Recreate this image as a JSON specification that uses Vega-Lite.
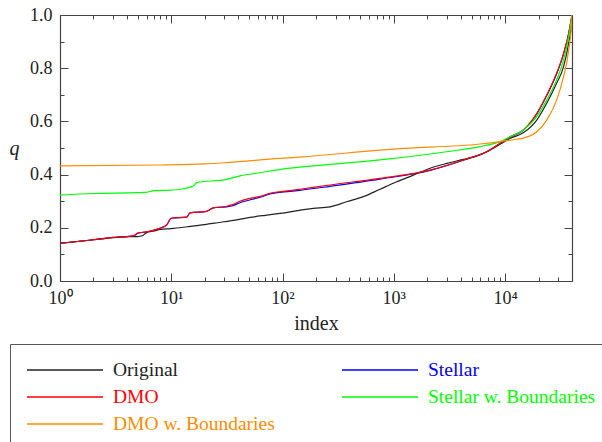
{
  "$schema": "https://vega.github.io/schema/vega-lite/v6.json",
  "width": 512,
  "height": 266,
  "autosize": {"type": "none"},
  "padding": {"left": 60, "top": 15, "right": 30, "bottom": 161},
  "background": "white",
  "config": {
    "view": {"stroke": null},
    "axis": {
      "grid": false,
      "labelFont": "Liberation Serif",
      "labelFontSize": 18,
      "labelColor": "#222222",
      "titleFont": "Liberation Serif",
      "titleFontWeight": "normal",
      "titleColor": "#222222",
      "tickColor": "#444444",
      "domainColor": "#444444",
      "tickWidth": 1,
      "domainWidth": 1.2
    },
    "legend": {
      "labelFont": "Liberation Serif",
      "labelFontSize": 19.5
    }
  },
  "data": {
    "values": [
      {"s": "Stellar", "i": 1, "q": 0.142},
      {"s": "Stellar", "i": 2, "q": 0.155},
      {"s": "Stellar", "i": 3, "q": 0.164},
      {"s": "Stellar", "i": 4, "q": 0.167},
      {"s": "Stellar", "i": 4.6, "q": 0.170},
      {"s": "Stellar", "i": 5, "q": 0.180},
      {"s": "Stellar", "i": 6, "q": 0.185},
      {"s": "Stellar", "i": 7.9, "q": 0.198},
      {"s": "Stellar", "i": 9.1, "q": 0.211},
      {"s": "Stellar", "i": 10, "q": 0.236},
      {"s": "Stellar", "i": 13.8, "q": 0.240},
      {"s": "Stellar", "i": 14.7, "q": 0.256},
      {"s": "Stellar", "i": 20.8, "q": 0.262},
      {"s": "Stellar", "i": 23.9, "q": 0.275},
      {"s": "Stellar", "i": 31.5, "q": 0.279},
      {"s": "Stellar", "i": 35, "q": 0.282},
      {"s": "Stellar", "i": 41.4, "q": 0.294},
      {"s": "Stellar", "i": 58, "q": 0.311},
      {"s": "Stellar", "i": 63, "q": 0.315},
      {"s": "Stellar", "i": 77, "q": 0.327},
      {"s": "Stellar", "i": 117, "q": 0.337},
      {"s": "Stellar", "i": 143, "q": 0.341},
      {"s": "Stellar", "i": 267, "q": 0.356},
      {"s": "Stellar", "i": 752, "q": 0.383},
      {"s": "Stellar", "i": 2120, "q": 0.416},
      {"s": "Stellar", "i": 4220, "q": 0.454},
      {"s": "Stellar", "i": 6840, "q": 0.486},
      {"s": "Stellar", "i": 11100, "q": 0.541},
      {"s": "Stellar", "i": 14600, "q": 0.567},
      {"s": "Stellar", "i": 19300, "q": 0.628},
      {"s": "Stellar", "i": 23700, "q": 0.697},
      {"s": "Stellar", "i": 29100, "q": 0.779},
      {"s": "Stellar", "i": 33600, "q": 0.854},
      {"s": "Stellar", "i": 37300, "q": 0.93},
      {"s": "Stellar", "i": 40000, "q": 1.0},

      {"s": "Original", "i": 1, "q": 0.142},
      {"s": "Original", "i": 2, "q": 0.155},
      {"s": "Original", "i": 3, "q": 0.163},
      {"s": "Original", "i": 4, "q": 0.167},
      {"s": "Original", "i": 5, "q": 0.167},
      {"s": "Original", "i": 5.5, "q": 0.170},
      {"s": "Original", "i": 6, "q": 0.182},
      {"s": "Original", "i": 7, "q": 0.188},
      {"s": "Original", "i": 8, "q": 0.194},
      {"s": "Original", "i": 10, "q": 0.197},
      {"s": "Original", "i": 14, "q": 0.204},
      {"s": "Original", "i": 20, "q": 0.212},
      {"s": "Original", "i": 26, "q": 0.219},
      {"s": "Original", "i": 40, "q": 0.231},
      {"s": "Original", "i": 51, "q": 0.239},
      {"s": "Original", "i": 70, "q": 0.247},
      {"s": "Original", "i": 95, "q": 0.254},
      {"s": "Original", "i": 189, "q": 0.273},
      {"s": "Original", "i": 267, "q": 0.279},
      {"s": "Original", "i": 377, "q": 0.298},
      {"s": "Original", "i": 533, "q": 0.317},
      {"s": "Original", "i": 752, "q": 0.345},
      {"s": "Original", "i": 1063, "q": 0.373},
      {"s": "Original", "i": 1500, "q": 0.398},
      {"s": "Original", "i": 2120, "q": 0.424},
      {"s": "Original", "i": 2990, "q": 0.442},
      {"s": "Original", "i": 4220, "q": 0.457},
      {"s": "Original", "i": 5960, "q": 0.474},
      {"s": "Original", "i": 7850, "q": 0.499},
      {"s": "Original", "i": 11100, "q": 0.536},
      {"s": "Original", "i": 14600, "q": 0.557},
      {"s": "Original", "i": 19300, "q": 0.605},
      {"s": "Original", "i": 23700, "q": 0.668},
      {"s": "Original", "i": 29100, "q": 0.743},
      {"s": "Original", "i": 33600, "q": 0.806},
      {"s": "Original", "i": 37300, "q": 0.894},
      {"s": "Original", "i": 39800, "q": 0.98},
      {"s": "Original", "i": 40000, "q": 1.0},

      {"s": "DMO", "i": 1, "q": 0.142},
      {"s": "DMO", "i": 2, "q": 0.155},
      {"s": "DMO", "i": 3, "q": 0.164},
      {"s": "DMO", "i": 4, "q": 0.167},
      {"s": "DMO", "i": 4.6, "q": 0.170},
      {"s": "DMO", "i": 5, "q": 0.180},
      {"s": "DMO", "i": 6, "q": 0.185},
      {"s": "DMO", "i": 7.9, "q": 0.198},
      {"s": "DMO", "i": 9.1, "q": 0.211},
      {"s": "DMO", "i": 10, "q": 0.236},
      {"s": "DMO", "i": 13.8, "q": 0.240},
      {"s": "DMO", "i": 14.7, "q": 0.256},
      {"s": "DMO", "i": 20.8, "q": 0.262},
      {"s": "DMO", "i": 23.9, "q": 0.275},
      {"s": "DMO", "i": 31.5, "q": 0.281},
      {"s": "DMO", "i": 35, "q": 0.286},
      {"s": "DMO", "i": 41.4, "q": 0.300},
      {"s": "DMO", "i": 58, "q": 0.315},
      {"s": "DMO", "i": 63, "q": 0.318},
      {"s": "DMO", "i": 77, "q": 0.330},
      {"s": "DMO", "i": 117, "q": 0.340},
      {"s": "DMO", "i": 143, "q": 0.345},
      {"s": "DMO", "i": 267, "q": 0.361},
      {"s": "DMO", "i": 752, "q": 0.386},
      {"s": "DMO", "i": 2120, "q": 0.417},
      {"s": "DMO", "i": 4220, "q": 0.455},
      {"s": "DMO", "i": 6840, "q": 0.486},
      {"s": "DMO", "i": 11100, "q": 0.542},
      {"s": "DMO", "i": 14600, "q": 0.568},
      {"s": "DMO", "i": 19300, "q": 0.630},
      {"s": "DMO", "i": 23700, "q": 0.699},
      {"s": "DMO", "i": 29100, "q": 0.781},
      {"s": "DMO", "i": 33600, "q": 0.856},
      {"s": "DMO", "i": 37300, "q": 0.93},
      {"s": "DMO", "i": 40000, "q": 1.0},

      {"s": "Stellar w. Boundaries", "i": 1, "q": 0.323},
      {"s": "Stellar w. Boundaries", "i": 2, "q": 0.329},
      {"s": "Stellar w. Boundaries", "i": 5, "q": 0.332},
      {"s": "Stellar w. Boundaries", "i": 5.8, "q": 0.333},
      {"s": "Stellar w. Boundaries", "i": 7.1, "q": 0.340},
      {"s": "Stellar w. Boundaries", "i": 10, "q": 0.342},
      {"s": "Stellar w. Boundaries", "i": 12, "q": 0.345},
      {"s": "Stellar w. Boundaries", "i": 15.8, "q": 0.357},
      {"s": "Stellar w. Boundaries", "i": 16.9, "q": 0.370},
      {"s": "Stellar w. Boundaries", "i": 31.5, "q": 0.382},
      {"s": "Stellar w. Boundaries", "i": 41.4, "q": 0.395},
      {"s": "Stellar w. Boundaries", "i": 58.3, "q": 0.405},
      {"s": "Stellar w. Boundaries", "i": 117, "q": 0.424},
      {"s": "Stellar w. Boundaries", "i": 143, "q": 0.428},
      {"s": "Stellar w. Boundaries", "i": 752, "q": 0.455},
      {"s": "Stellar w. Boundaries", "i": 2990, "q": 0.486},
      {"s": "Stellar w. Boundaries", "i": 5960, "q": 0.505},
      {"s": "Stellar w. Boundaries", "i": 9020, "q": 0.524},
      {"s": "Stellar w. Boundaries", "i": 11100, "q": 0.542},
      {"s": "Stellar w. Boundaries", "i": 14600, "q": 0.568},
      {"s": "Stellar w. Boundaries", "i": 19300, "q": 0.618},
      {"s": "Stellar w. Boundaries", "i": 23700, "q": 0.680},
      {"s": "Stellar w. Boundaries", "i": 29100, "q": 0.756},
      {"s": "Stellar w. Boundaries", "i": 33600, "q": 0.831},
      {"s": "Stellar w. Boundaries", "i": 37300, "q": 0.918},
      {"s": "Stellar w. Boundaries", "i": 40000, "q": 1.0},

      {"s": "DMO w. Boundaries", "i": 1, "q": 0.433},
      {"s": "DMO w. Boundaries", "i": 7.9, "q": 0.436},
      {"s": "DMO w. Boundaries", "i": 20, "q": 0.440},
      {"s": "DMO w. Boundaries", "i": 31.5, "q": 0.445},
      {"s": "DMO w. Boundaries", "i": 95, "q": 0.461},
      {"s": "DMO w. Boundaries", "i": 143, "q": 0.466},
      {"s": "DMO w. Boundaries", "i": 752, "q": 0.492},
      {"s": "DMO w. Boundaries", "i": 1000, "q": 0.496},
      {"s": "DMO w. Boundaries", "i": 5960, "q": 0.515},
      {"s": "DMO w. Boundaries", "i": 9020, "q": 0.524},
      {"s": "DMO w. Boundaries", "i": 12700, "q": 0.533},
      {"s": "DMO w. Boundaries", "i": 14600, "q": 0.537},
      {"s": "DMO w. Boundaries", "i": 19300, "q": 0.561},
      {"s": "DMO w. Boundaries", "i": 23700, "q": 0.605},
      {"s": "DMO w. Boundaries", "i": 29100, "q": 0.680},
      {"s": "DMO w. Boundaries", "i": 33600, "q": 0.768},
      {"s": "DMO w. Boundaries", "i": 37300, "q": 0.865},
      {"s": "DMO w. Boundaries", "i": 39800, "q": 0.98},
      {"s": "DMO w. Boundaries", "i": 40000, "q": 1.0}
    ]
  },
  "resolve": {"scale": {"x": "independent", "y": "independent"}},
  "layer": [
    {
      "mark": {"type": "line", "strokeWidth": 1.2, "interpolate": "monotone", "clip": true},
      "encoding": {
        "x": {
          "field": "i", "type": "quantitative",
          "scale": {"type": "log", "domain": [1, 40000], "nice": false},
          "axis": {
            "orient": "bottom",
            "values": [1, 10, 100, 1000, 10000],
            "labelExpr": "'10' + ['⁰','¹','²','³','⁴'][round(log(datum.value) / LN10)]",
            "tickSize": -8,
            "labelPadding": 16,
            "labelFlush": false,
            "title": "index",
            "titleFontSize": 20,
            "titleBaseline": "middle",
            "titleY": 42
          }
        },
        "y": {
          "field": "q", "type": "quantitative",
          "scale": {"domain": [0, 1], "nice": false, "zero": false},
          "axis": {
            "orient": "left",
            "values": [0, 0.2, 0.4, 0.6, 0.8, 1.0],
            "format": ".1f",
            "tickSize": -8,
            "labelPadding": 16,
            "labelFlush": false,
            "title": "q",
            "titleFontStyle": "italic",
            "titleFontSize": 20,
            "titleAngle": 0,
            "titleAlign": "center",
            "titleBaseline": "middle",
            "titleX": -46,
            "titleY": 133
          }
        },
        "color": {
          "field": "s", "type": "nominal",
          "scale": {
            "domain": ["Original", "DMO", "DMO w. Boundaries", "Stellar", "Stellar w. Boundaries"],
            "range": ["#222222", "#ff0000", "#ff8c00", "#0000ff", "#00ff00"]
          },
          "legend": {
            "orient": "none",
            "legendX": -50,
            "legendY": 329,
            "title": null,
            "columns": 2,
            "symbolType": "stroke",
            "symbolSize": 5776,
            "symbolStrokeWidth": 1.5,
            "clipHeight": 20,
            "rowPadding": 7,
            "columnPadding": 66,
            "labelOffset": 9,
            "labelLimit": 400,
            "padding": 16,
            "strokeColor": "#555555",
            "fillColor": "white",
            "encode": {
              "labels": {"update": {"fill": {"scale": "color", "field": "value"}}}
            }
          }
        },
        "detail": {"field": "s"}
      }
    },
    {
      "mark": {"type": "line", "strokeOpacity": 0},
      "encoding": {
        "x": {
          "field": "i", "type": "quantitative",
          "scale": {"type": "log", "domain": [1, 40000], "nice": false},
          "axis": {
            "orient": "bottom",
            "values": [2, 3, 4, 5, 6, 7, 8, 9, 20, 30, 40, 50, 60, 70, 80, 90, 200, 300, 400, 500, 600, 700, 800, 900, 2000, 3000, 4000, 5000, 6000, 7000, 8000, 9000, 20000, 30000],
            "tickSize": -4,
            "labels": false,
            "domain": false,
            "title": null
          }
        },
        "y": {
          "field": "q", "type": "quantitative",
          "scale": {"domain": [0, 1], "nice": false, "zero": false},
          "axis": {
            "orient": "left",
            "values": [0.1, 0.3, 0.5, 0.7, 0.9],
            "tickSize": -4,
            "labels": false,
            "domain": false,
            "title": null
          }
        },
        "detail": {"field": "s"}
      }
    },
    {
      "mark": {"type": "line", "strokeOpacity": 0},
      "encoding": {
        "x": {
          "field": "i", "type": "quantitative",
          "scale": {"type": "log", "domain": [1, 40000], "nice": false},
          "axis": {
            "orient": "top",
            "values": [1, 10, 100, 1000, 10000],
            "tickSize": -8,
            "labels": false,
            "title": null
          }
        },
        "y": {
          "field": "q", "type": "quantitative",
          "scale": {"domain": [0, 1], "nice": false, "zero": false},
          "axis": {
            "orient": "right",
            "values": [0, 0.2, 0.4, 0.6, 0.8, 1.0],
            "tickSize": -8,
            "labels": false,
            "title": null
          }
        },
        "detail": {"field": "s"}
      }
    },
    {
      "mark": {"type": "line", "strokeOpacity": 0},
      "encoding": {
        "x": {
          "field": "i", "type": "quantitative",
          "scale": {"type": "log", "domain": [1, 40000], "nice": false},
          "axis": {
            "orient": "top",
            "values": [2, 3, 4, 5, 6, 7, 8, 9, 20, 30, 40, 50, 60, 70, 80, 90, 200, 300, 400, 500, 600, 700, 800, 900, 2000, 3000, 4000, 5000, 6000, 7000, 8000, 9000, 20000, 30000],
            "tickSize": -4,
            "labels": false,
            "domain": false,
            "title": null
          }
        },
        "y": {
          "field": "q", "type": "quantitative",
          "scale": {"domain": [0, 1], "nice": false, "zero": false},
          "axis": {
            "orient": "right",
            "values": [0.1, 0.3, 0.5, 0.7, 0.9],
            "tickSize": -4,
            "labels": false,
            "domain": false,
            "title": null
          }
        },
        "detail": {"field": "s"}
      }
    }
  ]
}
